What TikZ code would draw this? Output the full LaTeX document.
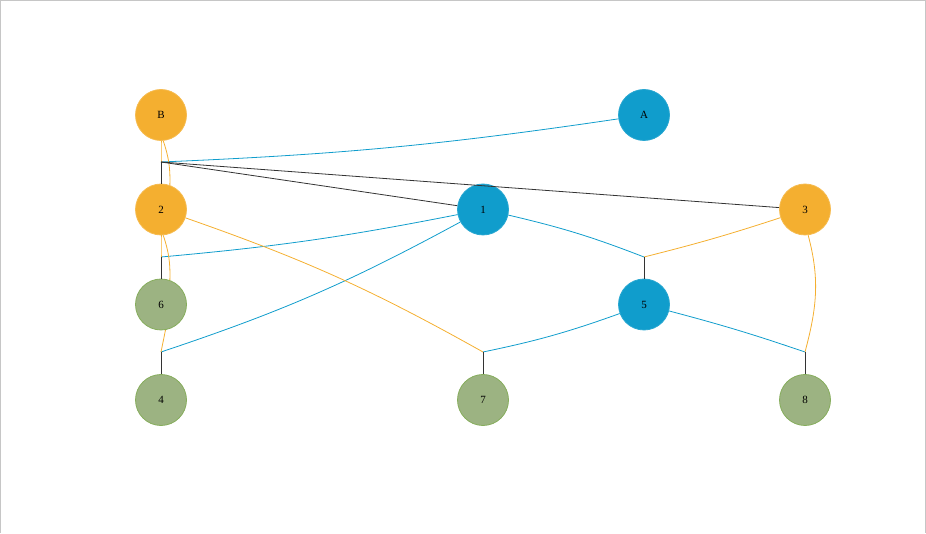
\documentclass[tikz,border=0pt]{standalone}
\usepackage{fontspec}
\setmainfont{Liberation Serif}
\usepackage{xcolor}
\usepackage{tikz}

\definecolor{kinorange}{HTML}{F4AF30}
\definecolor{kinblue}{HTML}{109DCC}
\definecolor{kingreen}{HTML}{9CB382}
\definecolor{kingreenline}{HTML}{86AD5C}
\definecolor{kindark}{HTML}{333333}

\begin{document}
\begin{tikzpicture}[x=1pt, y=1pt, every node/.style={font=\fontsize{11}{13}\selectfont},
  person/.style={circle, minimum size=51pt, inner sep=0pt, line width=0.8pt},
  orangep/.style={person, fill=kinorange, draw=kinorange!85!white},
  bluep/.style={person, fill=kinblue, draw=kinblue!90!white},
  greenp/.style={person, fill=kingreen, draw=kingreenline},
  olink/.style={kinorange, line width=0.8pt},
  blink/.style={kinblue, line width=0.8pt},
  klink/.style={kindark, line width=0.8pt}]
  \useasboundingbox (0,0) rectangle (926,533);
  \draw[gray!45] (0.5,0) -- (0.5,532.5) -- (925.5,532.5) -- (925.5,0);

  % people
  \foreach \n/\x/\y/\s in {B/161/418/orangep, A/644/418/bluep,
      2/161/323.5/orangep, 1/483/323.5/bluep, 3/805/323.5/orangep,
      6/161/228.5/greenp, 5/644/228.5/bluep,
      4/161/133/greenp, 7/483/133/greenp, 8/805/133/greenp}{
    \node[\s] (\n) at (\x,\y) {\n};
  }

  % couple points
  \coordinate (j1) at (161,371);
  \coordinate (j2) at (161,276);
  \coordinate (j4) at (161,181);
  \coordinate (j5) at (644,276);
  \coordinate (j7) at (483,181);
  \coordinate (j8) at (805,181);

  % parents to couple points
  \foreach \a/\b/\t in {A/j1/3, 1/j2/3, 1/j4/5, 1/j5/4, 5/j7/4, 5/j8/2}{
    \draw[blink] (\a) to[bend left=\t] (\b);
  }
  \foreach \a/\b/\t in {B/j1/0, 2/j2/0, 2/j7/5, 3/j5/2}{
    \draw[olink] (\a) to[bend left=\t] (\b);
  }
  \draw[olink] (6.-80) -- (j4);
  \draw[olink] (3.-83) to[out=-75, in=75] (j8);
  \draw[olink] (B.-85) to[bend left=10] (2.70);
  \draw[olink] (2.-85) to[bend left=10] (6.70);

  % couple points to children
  \foreach \a/\b in {j1/2, j1/1, j1/3, j2/6, j4/4, j5/5, j7/7, j8/8}{
    \draw[klink] (\a) -- (\b);
  }
\end{tikzpicture}
\end{document}
